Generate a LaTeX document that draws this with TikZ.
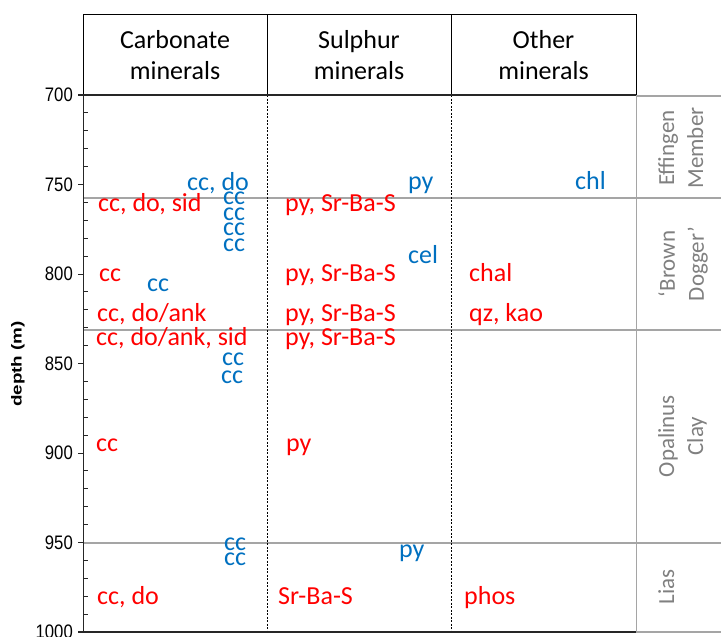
\documentclass[tikz,border=0pt]{standalone}
\usepackage{fontspec}
\setmainfont{Carlito}
\newfontfamily\axisfont{Liberation Sans}
\definecolor{minred}{RGB}{255,0,0}
\definecolor{minblue}{RGB}{0,112,192}
\definecolor{unitgray}{RGB}{128,128,128}
\definecolor{linegray}{RGB}{165,165,165}

\begin{document}
\begin{tikzpicture}[x=1pt,y=-1pt]
    \tikzstyle{every node}=[inner sep=0pt]
    \tikzstyle{head}=[align=center,font=\fontsize{26}{31}\selectfont]
    \tikzstyle{red min}=[anchor=base west,text=minred,font=\fontsize{26}{31}\selectfont]
    \tikzstyle{blue min}=[anchor=base west,text=minblue,font=\fontsize{26}{31}\selectfont]
    \tikzstyle{unit}=[rotate=90,anchor=north,align=center,text=unitgray,font=\fontsize{23}{29}\selectfont]
    \tikzstyle{bound}=[draw=linegray,line width=1.3pt]
    \tikzstyle{divider}=[dash pattern=on 2pt off 1.5pt,line width=0.7pt]

    \useasboundingbox (0,0) rectangle (721,637);

    % header
    \draw[line width=0.9pt] (83,14) rectangle (636,95);
    \draw[line width=0.9pt] (267,14) -- (267,95) (451,14) -- (451,95);
    \node[head] (H-carb) at (175,55) {Carbonate\\minerals};
    \node[head] (H-sulph) at (359,55) {Sulphur\\minerals};
    \node[head] (H-other) at (543.5,55) {Other\\minerals};

    % unit boundaries
    \foreach \y in {198,330,543}
    \draw[bound] (83,\y) -- (721,\y);
    \draw[bound] (636,96) -- (721,96);
    \draw[bound] (636,632) -- (721,632);
    \draw[bound] (636.5,95) -- (636.5,632);

    % columns and axis
    \draw[divider] (267,95) -- (267,632) (451,95) -- (451,632);
    \draw[line width=1.5pt,black!85] (78,95) -- (636,95);
    \draw[line width=1.2pt,black!85] (78,632) -- (636,632);
    \draw[line width=0.9pt,black!85] (83,95) -- (83,632);
    \foreach \d in {700,750,...,1000} {
        \draw[line width=0.9pt,black!85] (78,{95+1.79*(\d-700)}) -- (83,{95+1.79*(\d-700)});
        \node[anchor=east,font=\axisfont\fontsize{16.7}{18}\selectfont] (T-\d) at (73,{95+1.79*(\d-700)}) {\scalebox{1}[1.17]{\d}};
    }
    \foreach \b in {700,750,...,950}
    \foreach \m in {10,20,30,40}
    \draw[line width=0.9pt,black!85] (83,{95+1.79*(\b+\m-700)}) -- (88,{95+1.79*(\b+\m-700)});
    \node[rotate=90,font=\axisfont\bfseries\fontsize{14.5}{16}\selectfont] (depth) at (18,364) {\scalebox{1.3}[1]{depth (m)}};

    % units
    \node[unit] (U-eff) at (658,148) {Effingen\\Member};
    \node[unit] (U-bd) at (658,264) {‘Brown\\Dogger’};
    \node[unit] (U-opa) at (658,436) {Opalinus\\Clay};
    \node[unit] (U-lias) at (658,587) {Lias};

    % carbonate minerals
    \node[red min] (C-1) at (98,211) {cc, do, sid};
    \node[red min] (C-2) at (99,281) {cc};
    \node[red min] (C-3) at (97,321) {cc, do/ank};
    \node[red min] (C-4) at (96,345) {cc, do/ank, sid};
    \node[red min] (C-5) at (96,451) {cc};
    \node[red min] (C-6) at (97,604) {cc, do};
    \node[blue min] (Cv-1) at (187,190) {cc, do};
    \foreach \y in {204,220,235,251}
    \node[blue min] (Cv-\y) at (223,\y) {cc};
    \node[blue min] (Cv-2) at (147,291) {cc};
    \node[blue min] (Cv-3) at (222,365) {cc};
    \node[blue min] (Cv-4) at (221,383) {cc};
    \node[blue min] (Cv-5) at (224,550) {cc};
    \node[blue min] (Cv-6) at (224,565) {cc};

    % sulphur minerals
    \foreach \y in {211,281,321,345}
    \node[red min] (S-\y) at (285,\y) {py, Sr-Ba-S};
    \node[red min] (S-1) at (286,451) {py};
    \node[red min] (S-2) at (278,604) {Sr-Ba-S};
    \node[blue min] (Sv-1) at (408,189) {py};
    \node[blue min] (Sv-2) at (408,263) {cel};
    \node[blue min] (Sv-3) at (399,557) {py};

    % other minerals
    \node[blue min] (Ov-1) at (575,189) {chl};
    \node[red min] (O-1) at (469,281) {chal};
    \node[red min] (O-2) at (469,321) {qz, kao};
    \node[red min] (O-3) at (464,604) {phos};
\end{tikzpicture}
\end{document}
